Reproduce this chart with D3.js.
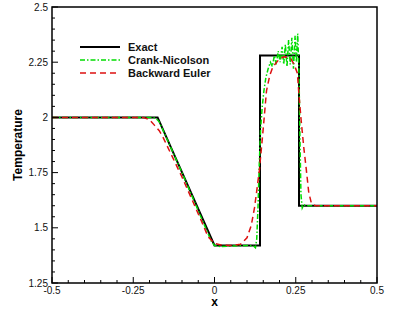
<!DOCTYPE html>
<html><head><meta charset="utf-8">
<script src="https://cdn.jsdelivr.net/npm/d3@7"></script>
<style>body{margin:0;background:#fff}svg{display:block}</style>
</head><body>
<script>
const exactX = [-0.5, -0.175, 0, 0.14, 0.14, 0.26, 0.26, 0.5];
const exactY = [2, 2, 1.42, 1.42, 2.28, 2.28, 1.6, 1.6];

const cnX = [-0.5, -0.19, -0.18, -0.17, -0.1, -0.01, 0.0, 0.02, 0.1, 0.12, 0.126, 0.13, 0.134, 0.138, 0.142, 0.147, 0.152, 0.158, 0.165, 0.172, 0.178, 0.184, 0.19, 0.196, 0.202, 0.208, 0.213, 0.218, 0.223, 0.228, 0.233, 0.238, 0.243, 0.248, 0.252, 0.256, 0.26, 0.263, 0.266, 0.27, 0.275, 0.28, 0.5];
const cnY = [2, 2, 1.995, 1.98, 1.75, 1.44, 1.42, 1.415, 1.42, 1.418, 1.41, 1.45, 1.6, 1.8, 1.95, 2.05, 2.12, 2.18, 2.22, 2.25, 2.23, 2.28, 2.24, 2.3, 2.25, 2.32, 2.24, 2.33, 2.23, 2.35, 2.24, 2.36, 2.22, 2.37, 2.25, 2.38, 2.2, 1.9, 1.65, 1.59, 1.605, 1.6, 1.6];

const beX = [-0.5, -0.22, -0.2, -0.185, -0.17, -0.16, -0.1, -0.04, -0.02, 0, 0.02, 0.05, 0.08, 0.1, 0.113, 0.123, 0.129, 0.138, 0.15, 0.16, 0.17, 0.18, 0.2, 0.215, 0.235, 0.245, 0.255, 0.26, 0.267, 0.275, 0.282, 0.29, 0.298, 0.31, 0.5];
const beY = [2, 2, 1.99, 1.965, 1.94, 1.915, 1.73, 1.53, 1.46, 1.43, 1.422, 1.42, 1.425, 1.455, 1.51, 1.59, 1.656, 1.76, 1.95, 2.12, 2.19, 2.23, 2.265, 2.275, 2.265, 2.24, 2.2, 2.1, 1.98, 1.86, 1.77, 1.66, 1.612, 1.6, 1.6];

const series = ["Exact", "Crank-Nicolson", "Backward Euler"];
const xTicks = [-0.5, -0.25, 0, 0.25, 0.5];
const xTickLabels = ["-0.5", "-0.25", "0", "0.25", "0.5"];
const yTicks = [2.5, 2.25, 2, 1.75, 1.5, 1.25];
const yTickLabels = ["2.5", "2.25", "2", "1.75", "1.5", "1.25"];

const W = 399, H = 319;
const L = 52, R = 377, T = 7, B = 283;
const svg = d3.select("body").append("svg").attr("width", W).attr("height", H);
const x = d3.scaleLinear().domain([-0.5, 0.5]).range([L, R]);
const y = d3.scaleLinear().domain([1.25, 2.5]).range([B, T]);
const font = "Liberation Sans, Arial, sans-serif";

svg.append("clipPath").attr("id", "c").append("rect")
  .attr("x", L).attr("y", T).attr("width", R - L).attr("height", B - T);

const line = d3.line().x(d => x(d[0])).y(d => y(d[1]));
const styles = [
  {color: "#000", width: 2, dash: null},
  {color: "#00dd00", width: 1.5, dash: "5,2,1.5,2"},
  {color: "#dd1111", width: 1.5, dash: "6,4"}
];
const data = [
  d3.zip(exactX, exactY),
  d3.zip(cnX, cnY),
  d3.zip(beX, beY)
];
const g = svg.append("g").attr("clip-path", "url(#c)");
data.forEach((d, i) => {
  g.append("path").datum(d).attr("d", line).attr("fill", "none")
    .attr("stroke", styles[i].color).attr("stroke-width", styles[i].width)
    .attr("stroke-dasharray", styles[i].dash);
});

// minor ticks
const xMinor = d3.range(-0.45, 0.5, 0.05).filter(v => Math.abs(v * 4 - Math.round(v * 4)) > 1e-6);
const yMinor = d3.range(1.3, 2.5, 0.05).filter(v => Math.abs(v * 4 - Math.round(v * 4)) > 1e-6);
const axG = svg.append("g").attr("stroke", "#000").attr("stroke-width", 1);
xTicks.forEach(v => axG.append("line").attr("x1", x(v)).attr("x2", x(v)).attr("y1", B).attr("y2", B - 6));
xMinor.forEach(v => axG.append("line").attr("x1", x(v)).attr("x2", x(v)).attr("y1", B).attr("y2", B - 3));
yTicks.forEach(v => axG.append("line").attr("y1", y(v)).attr("y2", y(v)).attr("x1", L).attr("x2", L + 6));
yMinor.forEach(v => axG.append("line").attr("y1", y(v)).attr("y2", y(v)).attr("x1", L).attr("x2", L + 3));

svg.append("rect").attr("x", L).attr("y", T).attr("width", R - L).attr("height", B - T)
  .attr("fill", "none").attr("stroke", "#000").attr("stroke-width", 1.5);

xTicks.forEach((v, i) => svg.append("text").attr("x", x(v)).attr("y", B + 11)
  .attr("text-anchor", "middle").attr("font-family", font).attr("font-size", 10)
  .attr("fill", "#111").text(xTickLabels[i]));
yTicks.forEach((v, i) => svg.append("text").attr("x", L - 4).attr("y", y(v) + 3.5)
  .attr("text-anchor", "end").attr("font-family", font).attr("font-size", 10)
  .attr("fill", "#111").text(yTickLabels[i]));

svg.append("text").attr("x", x(0)).attr("y", 306).attr("text-anchor", "middle")
  .attr("font-family", font).attr("font-size", 12).attr("font-weight", "bold").text("x");
svg.append("text").attr("transform", `translate(22,${(T + B) / 2}) rotate(-90)`)
  .attr("text-anchor", "middle").attr("font-family", font).attr("font-size", 12)
  .attr("font-weight", "bold").text("Temperature");

// legend
series.forEach((s, i) => {
  const yy = 47 + i * 13;
  svg.append("line").attr("x1", 80).attr("x2", 120).attr("y1", yy).attr("y2", yy)
    .attr("stroke", styles[i].color).attr("stroke-width", styles[i].width)
    .attr("stroke-dasharray", styles[i].dash);
  svg.append("text").attr("x", 128).attr("y", yy + 4).attr("font-family", font)
    .attr("font-size", 11).attr("font-weight", "bold").attr("fill", "#111").text(s);
});
</script>
</body></html>
